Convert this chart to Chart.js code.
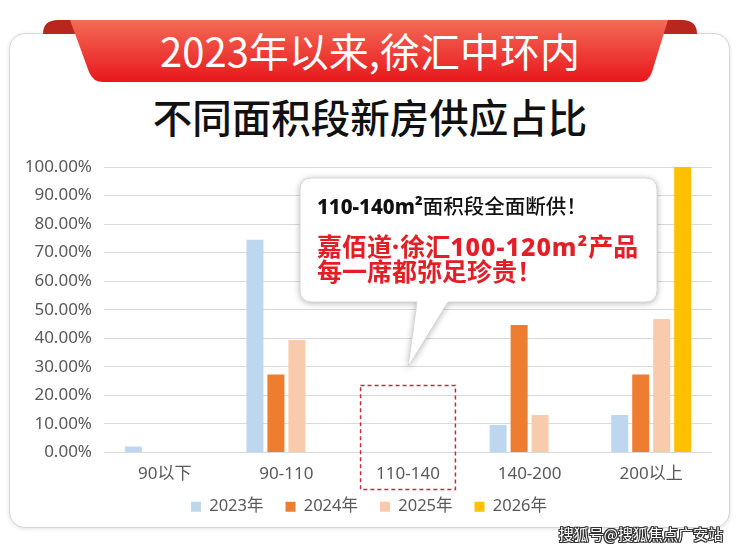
<!DOCTYPE html>
<html>
<head>
<meta charset="utf-8">
<script src="https://cdn.jsdelivr.net/npm/chart.js@4.4.1/dist/chart.umd.min.js"></script>
<style>
  body { margin: 0; width: 740px; height: 551px; background: #fff; position: relative; overflow: hidden; font-family: "Noto Sans CJK SC", "Noto Sans", sans-serif; }
  .card { position: absolute; left: 9px; top: 33px; width: 719px; height: 493px; border: 1.5px solid #d6d6d6; border-radius: 16px; background: #fff; box-shadow: 0 1px 4px rgba(0,0,0,0.12); z-index: 1; }
  #cinta { position: absolute; left: 0; top: 0; z-index: 2; }
  .cinta-texto { position: absolute; left: 0; top: 19px; width: 740px; line-height: 62px; text-align: center; color: #fff; font-size: 40px; z-index: 3; }
  .titulo { position: absolute; left: 0; top: 96px; width: 740px; line-height: 40px; text-align: center; color: #111; font-size: 39.5px; font-weight: 500; z-index: 3; }
  #contenedor { position: absolute; left: 0; top: 0; width: 740px; height: 551px; z-index: 4; }
  #globo { position: absolute; left: 0; top: 0; z-index: 5; filter: drop-shadow(0 1px 3px rgba(0,0,0,0.28)); }
  .globo-texto { position: absolute; left: 317px; top: 193px; z-index: 6; white-space: nowrap; }
  .lat { font-family: "Noto Sans", sans-serif; font-weight: 800; }
  .l1 { font-size: 20.5px; line-height: 24px; color: #111; font-weight: 500; }
  .l2 { font-size: 25px; line-height: 24px; color: #e41e26; font-weight: 700; margin-top: 15px; }
  .l2 .lat { letter-spacing: 1px; }
  .marca { position: absolute; right: 17px; top: 523px; font-size: 15px; line-height: 22px; color: #fff; z-index: 7;
           text-shadow: 1px 0 0 #333, -1px 0 0 #333, 0 1px 0 #333, 0 -1px 0 #333, 1px 1px 0 #333, -1px -1px 0 #333, 1px -1px 0 #333, -1px 1px 0 #333; }
</style>
</head>
<body>
<div class="card"></div>

<svg id="cinta" width="740" height="100">
  <defs>
    <linearGradient id="rojo" x1="0" y1="0" x2="0" y2="1">
      <stop offset="0" stop-color="#f36b56"/>
      <stop offset="1" stop-color="#e8171c"/>
    </linearGradient>
  </defs>
  <path d="M43,34 Q43,20 58,20 L72,20 L77,34 Z" fill="#b8271d"/>
  <path d="M697,34 Q697,20 682,20 L666,20 L662,34 Z" fill="#b8271d"/>
  <path d="M70,20 H668 L652,72 Q649,82 639,82 H103 Q93,82 89,72 Z" fill="url(#rojo)"/>
</svg>
<div class="cinta-texto">2023年以来,徐汇中环内</div>
<div class="titulo">不同面积段新房供应占比</div>

<div id="contenedor"><canvas id="grafico"></canvas></div>

<svg id="globo" width="740" height="551">
  <path d="M312,178 H645 Q657,178 657,190 V290 Q657,302 645,302 H448 L408,367 L417,302 H312 Q300,302 300,290 V190 Q300,178 312,178 Z" fill="#fff" stroke="#d6d6d6" stroke-width="1"/>
</svg>
<div class="globo-texto">
  <div class="l1"><span class="lat">110-140m²</span>面积段全面断供！</div>
  <div class="l2">嘉佰道<span class="lat">·</span>徐汇<span class="lat">100-120m²</span>产品<br>每一席都弥足珍贵！</div>
</div>

<div class="marca">搜狐号@搜狐焦点广安站</div>

<script>
const categorias = ["90以下", "90-110", "110-140", "140-200", "200以上"]
const anios = ["2023年", "2024年", "2025年", "2026年"]
const v2023 = [2.1, 74.5, 0, 9.6, 13.1]
const v2024 = [0, 27.3, 0, 44.7, 27.3]
const v2025 = [0, 39.4, 0, 13.1, 46.8]
const v2026 = [0, 0, 0, 0, 100]
const colores = ["#BDD7EE", "#ED7D31", "#F8CBAD", "#FFC000"]
const series = [v2023, v2024, v2025, v2026]

const fuente = '"Noto Sans", "Noto Sans CJK SC", sans-serif'
const gris = "#595959"

// marco punteado sobre la categoria 110-140
const marco = {
  id: "marco",
  afterDatasetsDraw(chart) {
    const ctx = chart.ctx
    const x = chart.scales.x
    const y = chart.scales.y
    const cx = x.getPixelForValue(2)
    const mitad = x.width / categorias.length * 0.39
    const arriba = y.getPixelForValue(23.5)
    const abajo = chart.chartArea.bottom + 37
    ctx.save()
    ctx.setLineDash([4, 3])
    ctx.strokeStyle = "#c42a40"
    ctx.lineWidth = 1.5
    ctx.strokeRect(cx - mitad, arriba, mitad * 2, abajo - arriba)
    ctx.restore()
  }
}

// la leyenda queda un poco mas arriba que su hueco
const subirLeyenda = {
  id: "subirLeyenda",
  afterLayout(chart) {
    chart.legend.top -= 16
    chart.legend.bottom -= 16
  }
}

new Chart(document.getElementById("grafico"), {
  type: "bar",
  data: {
    labels: categorias,
    datasets: anios.map((a, i) => ({
      label: a,
      data: series[i],
      backgroundColor: colores[i],
      borderWidth: 0,
      categoryPercentage: 0.69,
      barPercentage: 0.81
    }))
  },
  options: {
    responsive: true,
    maintainAspectRatio: false,
    animation: false,
    layout: { padding: { left: 26, right: 28, top: 167, bottom: 10 } },
    plugins: {
      tooltip: { enabled: false },
      legend: {
        position: "bottom",
        labels: { boxWidth: 10, boxHeight: 10, padding: 22, color: gris, font: { family: fuente, size: 16.5 } }
      }
    },
    scales: {
      x: {
        grid: { display: false, drawTicks: false },
        border: { display: false },
        ticks: { color: gris, padding: 11, font: { family: fuente, size: 17 } },
        afterFit(s) { s.height = 40 }
      },
      y: {
        min: 0,
        max: 100,
        grid: { color: "#d9d9d9", lineWidth: 1, drawTicks: false },
        border: { display: false },
        ticks: {
          stepSize: 10,
          color: gris,
          padding: 12,
          font: { family: fuente, size: 17 },
          callback: v => v.toFixed(2) + "%"
        },
        afterFit(s) { s.width = 78 }
      }
    }
  },
  plugins: [marco, subirLeyenda]
})
</script>
</body>
</html>
